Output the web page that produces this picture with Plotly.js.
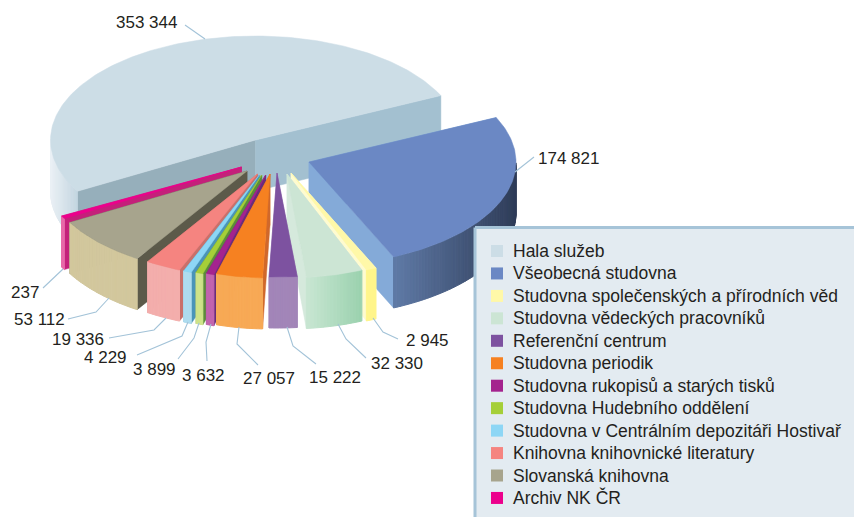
<!DOCTYPE html>
<html><head><meta charset="utf-8">
<script src="https://cdn.plot.ly/plotly-3.0.1.min.js"></script>
<style>html,body{margin:0;padding:0;background:#fff}#c{width:854px;height:517px}</style>
</head><body><div id="c"></div>
<script>
// ---- data ----
const categories = ["Hala služeb","Všeobecná studovna","Studovna společenských a přírodních věd","Studovna vědeckých pracovníků","Referenční centrum","Studovna periodik","Studovna rukopisů a starých tisků","Studovna Hudebního oddělení","Studovna v Centrálním depozitáři Hostivař","Knihovna knihovnické literatury","Slovanská knihovna","Archiv NK ČR"];
const values = [353344,174821,2945,32330,15222,27057,3632,3899,4229,19336,53112,237];
const valueLabels = ["353 344","174 821","2 945","32 330","15 222","27 057","3 632","3 899","4 229","19 336","53 112","237"];
// ---- style ----
const topColors  = ["#ccdde6","#6b88c4","#fff8a8","#cce5d4","#7d52a0","#f68121","#a4238e","#a5cf38","#8dd6f5","#f58480","#a7a48d","#ec008c"];
const startFaces = ["#96afbb","#84aad8","#fefbd0","#d5e9dc","#a285b8","#d0682b","#6a2d7a","#5c8c3a","#4a94b8","#c9706a","#5c5a4a","#c4207a"];
const endFaces   = ["#a3c0d0","#84aad8","#fefbd0","#d5e9dc","#a285b8","#d0682b","#6a2d7a","#5c8c3a","#4a94b8","#c9706a","#5c5a4a","#c4207a"];
const wallLeft   = ["#eaf0f5","#5f7aa6","#fff58a","#c8e6d2","#a285b8","#f7a955","#c264ae","#cfe38a","#aedcef","#f3aeac","#d2c79d","#e869a9"];
const wallRight  = ["#c3d5e0","#2f3c58","#fff58a","#9ad1ae","#a285b8","#f7a955","#c264ae","#cfe38a","#aedcef","#f3aeac","#d2c79d","#e869a9"];
const explodeX = [0,53.5,35.5,31.5,21.5,14.5,10.2,6.2,3.8,2,-8.5,-14];
const explodeY = [0,22,33,34,33,34,35,35,35,34,31,27];
const radiusX  = [205,207,208,195,204,190,184,188,196.5,204,204,204];
const minSweep = [0,0,2.85,0,0,0,2.45,2.2,2.37,0,0,1.6];
const drawOrder = [0,1,2,3,4,11,10,9,8,7,6,5];
const leaders = [
 [[185,25],[205,39]],[[515,172],[534,157]],[[373,318],[383,332],[398,339]],[[338,324],[346,339],[366,358]],
 [[287,327],[293,346],[316,364]],[[239,327],[237,344],[258,365]],[[211,324],[206,342],[207,361]],
 [[199,323],[194,338],[178,359]],[[188,322],[182,336],[137,355]],[[166,318],[154,330],[109,338]],
 [[109,298],[96,312],[68,319]],[[63,269],[43,288]]];
const labelPos = [[146,22],[568,158],[427,340],[397,363],[335,377],[269,378],[203,375],[154,369],[105,357],[78,339],[39,319],[25,292]];
const cx=255.5, cy=140, ry=104, depth=51, startAngle=209.6;
const legendBox={x0:475,x1:858,y0:227.5,y1:520}, legendSwatchX=497, legendTextX=513, legendTop=251, legendStep=22.45;

const total = values.reduce((a,b)=>a+b,0);
let cum=0;
const slices = values.map((v,i)=>{
  const a1=startAngle-cum/total*360; cum+=v;
  const sweep=Math.max(v/total*360,minSweep[i]);
  return {a1,a2:a1-sweep,ax:cx+explodeX[i],ay:cy+explodeY[i],rx:radiusX[i]};
});
const rad=d=>d*Math.PI/180;
const px=(s,a)=>s.ax+s.rx*Math.cos(rad(a));
const py=(s,a)=>s.ay-ry*Math.sin(rad(a));
function hex(c){return [1,3,5].map(k=>parseInt(c.substr(k,2),16));}
function mix(c1,c2,t){const a=hex(c1),b=hex(c2);return "rgb("+a.map((v,k)=>Math.round(v+(b[k]-v)*t)).join(",")+")";}
function poly(xs,ys,color,lw,lc){
  return {type:"scatter",mode:"lines",x:xs.concat(xs[0]),y:ys.concat(ys[0]),fill:"toself",fillcolor:color,
    line:{color:lc||color,width:lw===undefined?0.5:lw},hoverinfo:"skip",showlegend:false};
}
const traces=[];
function drawSlice(i){
  const s=slices[i];
  [[s.a1,startFaces[i]],[s.a2,endFaces[i]]].forEach(([a,c])=>{
    const x=px(s,a),y=py(s,a);
    traces.push(poly([s.ax,x,x,s.ax],[s.ay,y,y+depth,s.ay+depth],c));
  });
  const list=[];
  const n=Math.max(4,Math.ceil(s.a1-s.a2));
  for(let k=0;k<n;k++){
    const b1=s.a1-(s.a1-s.a2)*k/n, b2=s.a1-(s.a1-s.a2)*(k+1)/n;
    if(Math.sin(rad((b1+b2)/2))>=0) continue;
    list.push([b1,b2]);
  }
  if(list.length){
    const xsAll=list.flat().map(a=>px(s,a));
    const lo=Math.min(...xsAll), hi=Math.max(...xsAll);
    list.forEach(([b1,b2])=>{
      const m=(px(s,b1)+px(s,b2))/2;
      const t=hi>lo?(m-lo)/(hi-lo):0;
      const xs=[px(s,b1),px(s,b2),px(s,b2),px(s,b1)];
      const ys=[py(s,b1),py(s,b2),py(s,b2)+depth,py(s,b1)+depth];
      traces.push(poly(xs,ys,mix(wallLeft[i],wallRight[i],t),1));
    });
  }
  const xs=[s.ax],ys=[s.ay];
  const steps=Math.max(2,Math.ceil(s.a1-s.a2));
  for(let k=0;k<=steps;k++){const a=s.a1-(s.a1-s.a2)*k/steps;xs.push(px(s,a));ys.push(py(s,a));}
  traces.push(poly(xs,ys,topColors[i]));
}
drawOrder.forEach(drawSlice);
leaders.forEach(l=>traces.push({type:"scatter",mode:"lines",x:l.map(p=>p[0]),y:l.map(p=>p[1]),
  line:{color:"#a3c3d8",width:1.1},hoverinfo:"skip",showlegend:false}));
// legend panel, swatches
traces.push(poly([legendBox.x0,legendBox.x1,legendBox.x1,legendBox.x0],[legendBox.y0,legendBox.y0,legendBox.y1,legendBox.y1],"#e3ebf1",3,"#a6c4d8"));
traces.push({type:"scatter",mode:"markers",x:categories.map(()=>legendSwatchX),y:categories.map((c,i)=>legendTop+i*legendStep),
  marker:{symbol:"square",size:12,color:topColors,line:{width:0}},hoverinfo:"skip",showlegend:false});

const fam="Liberation Sans, Arial, sans-serif";
const annotations=valueLabels.map((t,i)=>({text:t,x:labelPos[i][0],y:labelPos[i][1],xref:"x",yref:"y",showarrow:false,
  xanchor:"center",yanchor:"middle",font:{family:fam,size:17,color:"#231f20"}}))
 .concat(categories.map((t,i)=>({text:t,x:legendTextX,y:legendTop+i*legendStep,xref:"x",yref:"y",showarrow:false,
  xanchor:"left",yanchor:"middle",xshift:-2,font:{family:fam,size:17.5,color:"#231f20"}})));

Plotly.newPlot("c",traces,{
  width:854,height:517,margin:{l:0,r:0,t:0,b:0},paper_bgcolor:"#fff",plot_bgcolor:"#fff",
  xaxis:{range:[0,854],visible:false,fixedrange:true},
  yaxis:{range:[517,0],visible:false,fixedrange:true},
  annotations,showlegend:false
},{staticPlot:true,displayModeBar:false});
</script></body></html>
